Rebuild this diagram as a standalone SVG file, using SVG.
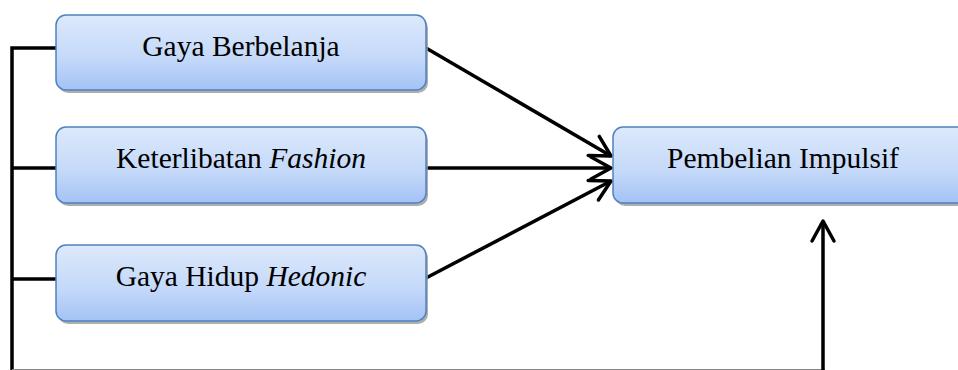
<svg xmlns="http://www.w3.org/2000/svg" width="958" height="370" viewBox="0 0 958 370">
<style>
.box{fill:url(#g);stroke:#4f81bd;stroke-width:1.5}
.sh{fill:#9a9a9a;opacity:0.8}
.t{font-family:"Liberation Serif","Times New Roman",serif;font-size:29.5px;fill:#000;text-anchor:middle}
.c{stroke:#000;stroke-width:3.5;fill:none}
.ah{stroke:#000;stroke-width:3.5;fill:none;stroke-linecap:round;stroke-linejoin:round}
</style>
<defs>
<linearGradient id="g" x1="0" y1="0" x2="0" y2="1">
<stop offset="0" stop-color="#dde9fc"/>
<stop offset="0.6" stop-color="#c3d8f9"/>
<stop offset="1" stop-color="#a3c2f5"/>
</linearGradient>
<marker id="arr" markerUnits="userSpaceOnUse" markerWidth="32" markerHeight="32" refX="23" refY="13" orient="auto" viewBox="0 0 32 26">
<path d="M3,2 L23,13 L3,24" class="ah"/>
</marker>
</defs>
<g id="connectors">
<path class="c" d="M12,370 L12,48 L57,48"/>
<path class="c" d="M12,168 L57,168"/>
<path class="c" d="M12,279 L57,279"/>
<line x1="12" y1="369.5" x2="825" y2="369.5" stroke="#888" stroke-width="1.2"/>
<line class="c" x1="426" y1="48" x2="611" y2="156" marker-end="url(#arr)"/>
<line class="c" x1="426" y1="168" x2="611" y2="168" marker-end="url(#arr)"/>
<line class="c" x1="426" y1="278" x2="611" y2="181" marker-end="url(#arr)"/>
<line class="c" x1="823" y1="370" x2="823" y2="221" marker-end="url(#arr)"/>
</g>
<g id="n1">
<rect class="sh" x="58" y="18" width="370" height="75" rx="10"/>
<rect class="box" x="56" y="15" width="370" height="75" rx="10"/>
<text class="t" x="241" y="56">Gaya Berbelanja</text>
</g>
<g id="n2">
<rect class="sh" x="58" y="130" width="370" height="76" rx="10"/>
<rect class="box" x="56" y="127" width="370" height="76" rx="10"/>
<text class="t" x="241" y="168">Keterlibatan <tspan font-style="italic">Fashion</tspan></text>
</g>
<g id="n3">
<rect class="sh" x="58" y="248" width="370" height="76" rx="10"/>
<rect class="box" x="56" y="245" width="370" height="76" rx="10"/>
<text class="t" x="241" y="286">Gaya Hidup <tspan font-style="italic">Hedonic</tspan></text>
</g>
<g id="n4">
<rect class="sh" x="615" y="130" width="360" height="76" rx="10"/>
<rect class="box" x="613" y="127" width="360" height="76" rx="10"/>
<text class="t" x="783" y="168">Pembelian Impulsif</text>
</g>
</svg>
